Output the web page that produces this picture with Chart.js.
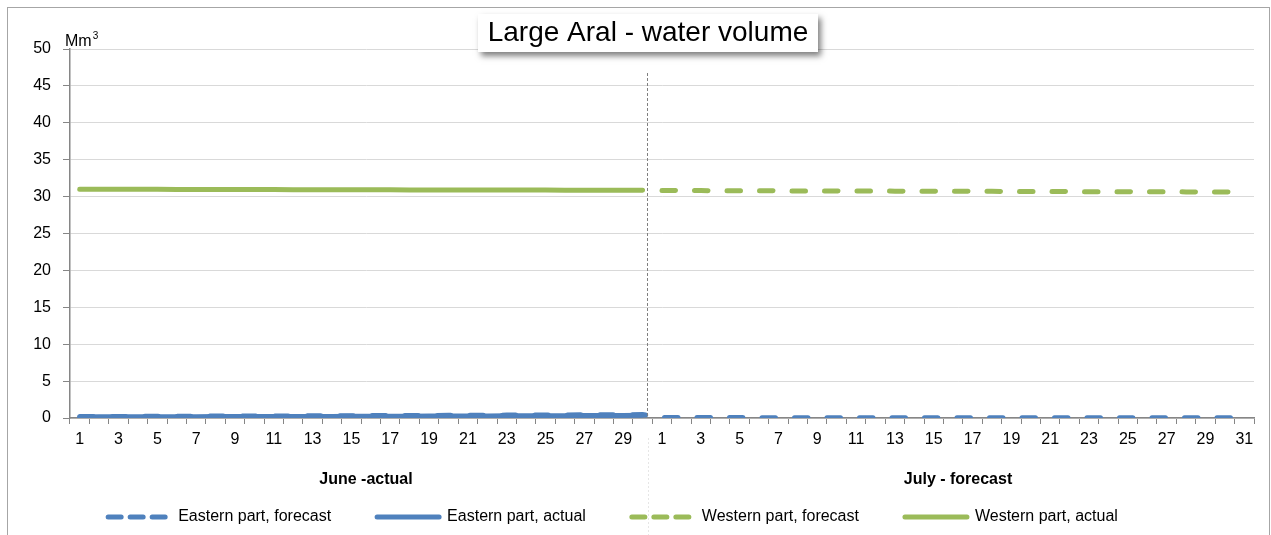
<!DOCTYPE html>
<html>
<head>
<meta charset="utf-8">
<script src="https://cdn.jsdelivr.net/npm/chart.js@4.4.1/dist/chart.umd.min.js"></script>
<style>
  html, body { margin: 0; padding: 0; background: #fff; overflow: hidden; }
  #frame {
    position: absolute; left: 7px; top: 7px;
    width: 1261px; height: 560px;
    border: 1.5px solid #a6a6a6; border-bottom: none;
    background: #fff;
  }
  #chart { position: absolute; left: 0; top: 0; }
</style>
</head>
<body>
<div id="frame"><canvas id="chart" width="1260" height="527"></canvas></div>
<script>
// use a narrow font if there is one, otherwise plain Liberation Sans a bit smaller
function hasFont(name) {
  const c = document.createElement('canvas').getContext('2d');
  c.font = '20px monospace';
  const a = c.measureText('abcdefghijklmnopqrstuvwxyz').width;
  c.font = "20px '" + name + "', monospace";
  return c.measureText('abcdefghijklmnopqrstuvwxyz').width !== a;
}
const NARROW = hasFont('Liberation Sans Narrow');
const FONT = NARROW ? "'Liberation Sans Narrow', sans-serif" : "'Liberation Sans', Arial, sans-serif";
const FS = NARROW ? 19 : 16;

const juneDays = ['1','2','3','4','5','6','7','8','9','10','11','12','13','14','15',
  '16','17','18','19','20','21','22','23','24','25','26','27','28','29','30'];
const julyDays = ['1','2','3','4','5','6','7','8','9','10','11','12','13','14','15',
  '16','17','18','19','20','21','22','23','24','25','26','27','28','29','30','31'];
const groups = ['June -actual', 'July - forecast'];

// June values (actual), Mm3
const eastActualJune = [0.15, 0.16, 0.16, 0.17, 0.17, 0.18, 0.18, 0.19, 0.19, 0.20,
  0.20, 0.21, 0.22, 0.22, 0.23, 0.24, 0.24, 0.25, 0.26, 0.27,
  0.27, 0.28, 0.29, 0.30, 0.31, 0.32, 0.33, 0.34, 0.35, 0.36];
const eastForecastJune = [0.20, 0.21, 0.22, 0.22, 0.23, 0.24, 0.25, 0.26, 0.27, 0.28,
  0.28, 0.29, 0.30, 0.31, 0.32, 0.33, 0.33, 0.34, 0.35, 0.36,
  0.37, 0.38, 0.39, 0.40, 0.41, 0.42, 0.43, 0.44, 0.45, 0.46];
const westActualJune = [31.00, 30.99, 30.99, 30.98, 30.98, 30.97, 30.97, 30.96, 30.96, 30.95,
  30.95, 30.94, 30.94, 30.93, 30.93, 30.92, 30.92, 30.91, 30.91, 30.90,
  30.90, 30.89, 30.89, 30.88, 30.88, 30.87, 30.87, 30.86, 30.86, 30.85];

// July values (forecast), Mm3
const eastForecastJuly = [0.06, 0.06, 0.06, 0.06, 0.06, 0.05, 0.05, 0.05, 0.05, 0.05,
  0.05, 0.05, 0.05, 0.05, 0.05, 0.04, 0.04, 0.04, 0.04, 0.04,
  0.04, 0.04, 0.04, 0.04, 0.04, 0.03, 0.03, 0.03, 0.03, 0.03, 0.03];
const westForecastJuly = [30.82, 30.81, 30.81, 30.80, 30.79, 30.79, 30.78, 30.77, 30.77, 30.76,
  30.75, 30.75, 30.74, 30.73, 30.73, 30.72, 30.71, 30.71, 30.70, 30.69,
  30.69, 30.68, 30.67, 30.67, 30.66, 30.65, 30.65, 30.64, 30.63, 30.63, 30.62];

const yTicks = [0, 5, 10, 15, 20, 25, 30, 35, 40, 45, 50];

const categories = juneDays.concat(julyDays);
const noJune = juneDays.map(() => null);
const noJuly = julyDays.map(() => null);

const BLUE = '#4f81bd';
const GREEN = '#9bbb59';
const AXIS = '#868686';
const LEGEND_H = 38;      // height kept for the legend box
const LEGEND_Y = 509;     // centre line of the legend row
const LEGEND_DX = -18;    // legend sits a bit left of centre

// vertical separator, title box, unit label; legend box fixed in place
const extras = {
  id: 'extras',
  afterInit(chart) {
    const lg = chart.legend;
    if (!lg) return;
    const origFit = lg.fit.bind(lg);
    lg.fit = function () {
      origFit();
      this.height = LEGEND_H;
    };
    const origDraw = lg.draw.bind(lg);
    lg.draw = function (area) {
      const saved = { top: this.top, bottom: this.bottom, left: this.left, right: this.right };
      const pad = this.options.labels.padding;
      this.top = LEGEND_Y - pad - FS / 2;
      this.bottom = this.top + 2 * pad + FS;
      this.left = saved.left + LEGEND_DX;
      this.right = saved.right + LEGEND_DX;
      origDraw(area);
      Object.assign(this, saved);
    };
  },
  afterDraw(chart) {
    const { ctx, chartArea, scales } = chart;
    const x = scales.x;
    const px = Math.round(x.getPixelForValue(29) + 0.25 * (x.getPixelForValue(30) - x.getPixelForValue(29)));
    ctx.save();
    ctx.strokeStyle = '#7f7f7f';
    ctx.lineWidth = 1;
    ctx.setLineDash([3, 2]);
    ctx.beginPath();
    ctx.moveTo(px + 0.5, chartArea.top + 24);
    ctx.lineTo(px + 0.5, chartArea.bottom);
    ctx.stroke();
    ctx.strokeStyle = '#e6e6e6';
    ctx.setLineDash([2, 2]);
    ctx.beginPath();
    ctx.moveTo(px + 1.5, chartArea.bottom + 20);
    ctx.lineTo(px + 1.5, chart.height);
    ctx.stroke();
    ctx.restore();

    // title box
    ctx.save();
    ctx.shadowColor = 'rgba(0,0,0,0.5)';
    ctx.shadowBlur = 6;
    ctx.shadowOffsetX = 3;
    ctx.shadowOffsetY = 4;
    ctx.fillStyle = '#fff';
    ctx.fillRect(470, 6, 340, 38);
    ctx.restore();
    ctx.save();
    ctx.fillStyle = '#000';
    ctx.font = "28px 'Liberation Sans', Arial, sans-serif";
    ctx.textAlign = 'center';
    ctx.textBaseline = 'middle';
    ctx.fillText('Large Aral - water volume', 640, 25);
    ctx.font = FS + 'px ' + FONT;
    ctx.textAlign = 'left';
    ctx.textBaseline = 'alphabetic';
    ctx.fillText('Mm', 57, 38);
    const w = ctx.measureText('Mm').width;
    ctx.font = Math.round(FS * 0.65) + 'px ' + FONT;
    ctx.fillText('3', 57 + w + 1, 31);
    ctx.restore();
  }
};

function generateChart() {
  const ctx = document.getElementById('chart').getContext('2d');
  new Chart(ctx, {
    type: 'line',
    data: {
      labels: categories,
      datasets: [
        {
          label: 'Eastern part, forecast',
          data: eastForecastJune.concat(eastForecastJuly),
          borderColor: BLUE, backgroundColor: BLUE,
          borderWidth: 5, borderDash: [13.5, 19], borderCapStyle: 'round'
        },
        {
          label: 'Eastern part, actual',
          data: eastActualJune.concat(noJuly),
          borderColor: BLUE, backgroundColor: BLUE,
          borderWidth: 5, borderCapStyle: 'round'
        },
        {
          label: 'Western part, forecast',
          data: noJune.concat(westForecastJuly),
          borderColor: GREEN, backgroundColor: GREEN,
          borderWidth: 5, borderDash: [13.5, 19], borderCapStyle: 'round'
        },
        {
          label: 'Western part, actual',
          data: westActualJune.concat(noJuly),
          borderColor: GREEN, backgroundColor: GREEN,
          borderWidth: 5, borderCapStyle: 'round'
        }
      ]
    },
    options: {
      responsive: false,
      devicePixelRatio: 1,
      animation: false,
      elements: { point: { radius: 0, hoverRadius: 0 }, line: { tension: 0 } },
      layout: { padding: { top: 41, right: 14, left: 0, bottom: 0 } },
      scales: {
        x: {
          type: 'category',
          offset: true,
          grid: { offset: true, drawOnChartArea: false, tickLength: 6, color: AXIS },
          border: { color: AXIS, width: 1.5 },
          ticks: {
            autoSkip: false, maxRotation: 0, color: '#000', padding: 6,
            font: { family: FONT, size: FS },
            callback(value) {
              const lab = this.getLabelForValue(value);
              return parseInt(lab, 10) % 2 === 1 ? lab : '';
            }
          },
          afterFit(scale) { scale.height = 35; }
        },
        x2: {
          type: 'category',
          labels: groups,
          position: 'bottom',
          weight: 1,
          offset: true,
          grid: { display: false },
          border: { display: false },
          ticks: { color: '#000', padding: 9, font: { family: FONT, size: FS, weight: 'bold' } },
          afterFit(scale) { scale.height = 44; }
        },
        y: {
          min: 0, max: 50,
          afterBuildTicks(scale) { scale.ticks = yTicks.map(v => ({ value: v })); },
          grid: { color: '#d9d9d9', tickColor: AXIS, tickLength: 7 },
          border: { color: AXIS, width: 1.5 },
          ticks: { color: '#000', padding: 12, font: { family: FONT, size: FS } },
          afterFit(scale) { scale.width = 62; }
        }
      },
      plugins: {
        title: { display: false },
        tooltip: { enabled: false },
        legend: {
          position: 'bottom',
          labels: {
            usePointStyle: true,
            pointStyle: 'line',
            pointStyleWidth: 62,
            padding: 46,
            color: '#000',
            font: { family: FONT, size: FS },
            generateLabels(chart) {
              const items = Chart.defaults.plugins.legend.labels.generateLabels(chart);
              items.forEach(it => {
                const ds = chart.data.datasets[it.datasetIndex];
                it.lineWidth = 5;
                it.lineCap = 'round';
                it.lineDash = ds.borderDash ? [13, 9] : [];
              });
              return items;
            }
          }
        }
      }
    },
    plugins: [extras]
  });
}

document.addEventListener('DOMContentLoaded', () => {
  generateChart();
});
</script>
</body>
</html>
